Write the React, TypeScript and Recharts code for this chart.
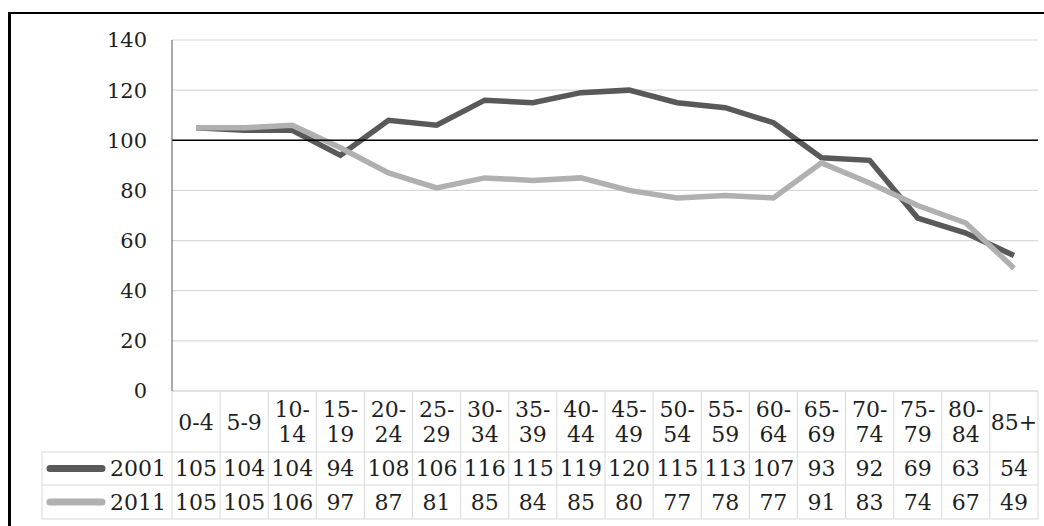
import { LineChart, Line, XAxis, YAxis, CartesianGrid, ReferenceLine } from 'recharts';

const categories = [
  '0-4', '5-9', '10-14', '15-19', '20-24', '25-29', '30-34', '35-39', '40-44',
  '45-49', '50-54', '55-59', '60-64', '65-69', '70-74', '75-79', '80-84', '85+',
];
const series2001 = [105, 104, 104, 94, 108, 106, 116, 115, 119, 120, 115, 113, 107, 93, 92, 69, 63, 54];
const series2011 = [105, 105, 106, 97, 87, 81, 85, 84, 85, 80, 77, 78, 77, 91, 83, 74, 67, 49];
const seriesNames = ['2001', '2011'];
const yTicks = [0, 20, 40, 60, 80, 100, 120, 140];

const data = categories.map((cat, i) => ({ cat, s2001: series2001[i], s2011: series2011[i] }));

const W = 1044;
const H = 526;
const Y_W = 172;
const X_H = 135;
const RIGHT = 6;
const PLOT_W = W - Y_W - RIGHT;
const CELL_W = PLOT_W / categories.length;
const PLOT_BOTTOM = H - X_H;
const ROW1 = PLOT_BOTTOM + 61;
const ROW2 = ROW1 + 33;
const ROW3 = ROW2 + 34;
const TABLE_LEFT = 42;
const FONT = '"DejaVu Serif", serif';
const TEXT = '#1f1f1f';
const DARK = '#595959';
const LIGHT = '#b0b0b0';
const GRID = '#d9d9d9';

const rows = [
  { name: seriesNames[0], values: series2001, color: DARK, top: ROW1, bottom: ROW2 },
  { name: seriesNames[1], values: series2011, color: LIGHT, top: ROW2, bottom: ROW3 },
];

// x axis tick draws the whole data-table column under the chart
function TableTick(props: any) {
  const { x, payload } = props;
  const i = payload.index;
  const cat = categories[i];
  const l = x - CELL_W / 2;
  const r = x + CELL_W / 2;
  const dash = cat.indexOf('-');
  const parts = dash > 0 && cat.length > 3 ? [cat.slice(0, dash + 1), cat.slice(dash + 1)] : [cat];
  const catMid = (PLOT_BOTTOM + ROW1) / 2;
  const txt = { fontFamily: FONT, fontSize: 22, fill: TEXT, textAnchor: 'middle' as const, dominantBaseline: 'central' as const };

  return (
    <g>
      {parts.length === 1 ? (
        <text x={x} y={catMid + 1} {...txt}>{parts[0]}</text>
      ) : (
        <>
          <text x={x} y={catMid - 12} {...txt}>{parts[0]}</text>
          <text x={x} y={catMid + 13} {...txt}>{parts[1]}</text>
        </>
      )}
      {rows.map((row) => (
        <text key={row.name} x={x} y={(row.top + row.bottom) / 2} {...txt}>{row.values[i]}</text>
      ))}
      <line x1={r} x2={r} y1={PLOT_BOTTOM} y2={ROW3} stroke={GRID} />
      {i === 0 && <line x1={l} x2={l} y1={PLOT_BOTTOM} y2={ROW3} stroke={GRID} />}
      {[ROW1, ROW2, ROW3].map((yy) => (
        <line key={yy} x1={i === 0 ? TABLE_LEFT : l} x2={r} y1={yy} y2={yy} stroke={GRID} />
      ))}
      {i === 0 && (
        <>
          <line x1={TABLE_LEFT} x2={TABLE_LEFT} y1={ROW1} y2={ROW3} stroke={GRID} />
          {rows.map((row) => {
            const mid = (row.top + row.bottom) / 2;
            return (
              <g key={row.name}>
                <line x1={50} x2={102} y1={mid} y2={mid} stroke={row.color} strokeWidth={7} strokeLinecap="round" />
                <text x={l - 6} y={mid} {...txt} textAnchor="end">{row.name}</text>
              </g>
            );
          })}
        </>
      )}
    </g>
  );
}

export default function App() {
  return (
    <div style={{ position: 'absolute', left: 0, top: 0, width: W, height: H, overflow: 'hidden', background: '#fff' }}>
      <div
        style={{
          position: 'absolute',
          left: 8,
          top: 12,
          width: 1200,
          height: 700,
          borderLeft: '3px solid #000',
          borderTop: '2px solid #000',
        }}
      />
      <div style={{ position: 'absolute', left: 0, top: 0 }}>
        <LineChart width={W} height={H} data={data} margin={{ top: 40, right: RIGHT, left: 0, bottom: 0 }}>
          <CartesianGrid vertical={false} stroke={GRID} strokeWidth={1.2} />
          <XAxis
            dataKey="cat"
            height={X_H}
            padding={{ left: CELL_W / 2, right: CELL_W / 2 }}
            interval={0}
            tickLine={false}
            axisLine={{ stroke: GRID }}
            tick={<TableTick />}
          />
          <XAxis xAxisId="top" orientation="top" dataKey="cat" height={0} tick={false} tickLine={false} axisLine={{ stroke: '#7a7a7a' }} />
          <YAxis
            width={Y_W}
            domain={[0, 140]}
            ticks={yTicks}
            interval={0}
            tickLine={false}
            tickMargin={19}
            axisLine={{ stroke: '#555' }}
            tick={{ fontFamily: FONT, fontSize: 21, fill: TEXT }}
          />
          <YAxis yAxisId="right" orientation="right" width={0} domain={[0, 140]} tick={false} tickLine={false} axisLine={{ stroke: '#7a7a7a' }} />
          <Line
            dataKey="s2001"
            name={seriesNames[0]}
            type="linear"
            stroke={DARK}
            strokeWidth={5.5}
            dot={false}
            isAnimationActive={false}
          />
          <Line
            dataKey="s2011"
            name={seriesNames[1]}
            type="linear"
            stroke={LIGHT}
            strokeWidth={5.5}
            dot={false}
            isAnimationActive={false}
          />
          <ReferenceLine y={100} stroke="#000" strokeWidth={1.5} />
        </LineChart>
      </div>
    </div>
  );
}
